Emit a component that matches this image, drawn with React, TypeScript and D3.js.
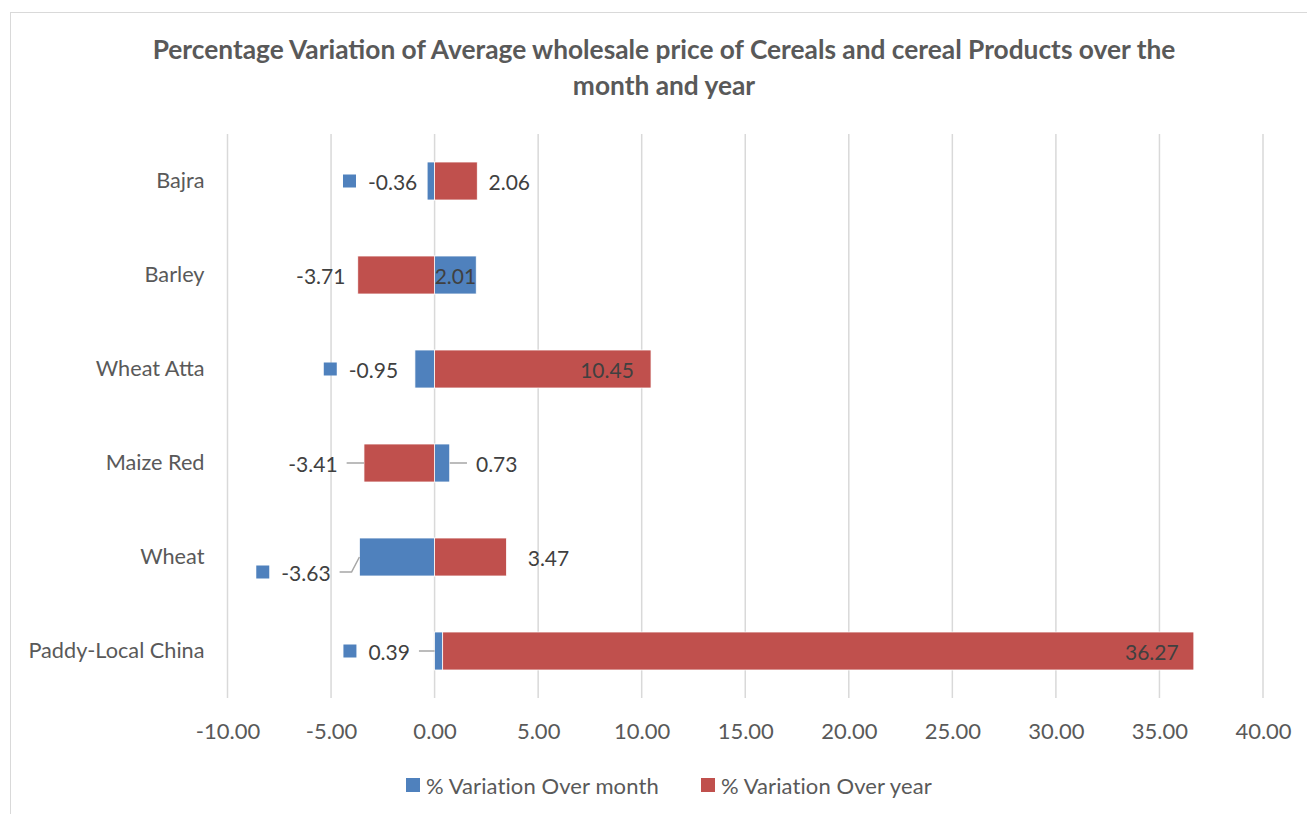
import { useEffect, useRef } from "react";
import * as d3 from "d3";

const categories = ["Bajra", "Barley", "Wheat Atta", "Maize Red", "Wheat", "Paddy-Local China"];
const overMonth = [-0.36, 2.01, -0.95, 0.73, -3.63, 0.39];
const overYear = [2.06, -3.71, 10.45, -3.41, 3.47, 36.27];
const seriesNames = ["% Variation Over month", "% Variation Over year"];
const xTickValues = [-10, -5, 0, 5, 10, 15, 20, 25, 30, 35, 40];

// where Excel's hand-moved data labels sit, relative to the segment's outer end
// mode: "end" = offset from outer end, "mid" = centred in segment
const monthLabelLayout = [
  { mode: "end", dx: -47, dy: 0, key: true, leader: false },
  { mode: "mid", dx: 0, dy: 0, key: false, leader: false },
  { mode: "end", dx: -54, dy: 0, key: true, leader: false },
  { mode: "end", dx: 47, dy: 0, key: false, leader: true },
  { mode: "end", dx: -66, dy: 15, key: true, leader: true },
  { mode: "end", dx: -66, dy: 0, key: true, leader: true },
];
const yearLabelLayout = [
  { mode: "end", dx: 32, dy: 0, key: false, leader: false },
  { mode: "end", dx: -37, dy: 0, key: false, leader: false },
  { mode: "end", dx: -44, dy: 0, key: false, leader: false },
  { mode: "end", dx: -51, dy: 0, key: false, leader: true },
  { mode: "end", dx: 42, dy: 0, key: false, leader: false },
  { mode: "end", dx: -42, dy: 0, key: false, leader: false },
];

const colors = ["#4F81BD", "#C0504D"];
const FONT = "Lato, 'Open Sans', sans-serif";
// excel shows a plain hyphen, not d3's unicode minus
const fmt = (v: number) => d3.format(".2f")(v).replace("\u2212", "-");

export default function App() {
  const ref = useRef<SVGSVGElement>(null);

  useEffect(() => {
    const svg = d3.select(ref.current);
    svg.selectAll("*").remove();

    const width = 1307;
    const height = 814;
    const plot = { left: 227.5, right: 1263, top: 134, bottom: 698 };

    svg.attr("width", width).attr("height", height).style("font-family", FONT);

    svg
      .append("rect")
      .attr("x", 10.5)
      .attr("y", 12.5)
      .attr("width", 1400)
      .attr("height", 900)
      .attr("fill", "#fff")
      .attr("stroke", "#D9D9D9")
      .attr("stroke-width", 1);

    // title
    const title = svg
      .append("text")
      .attr("text-anchor", "middle")
      .attr("fill", "#595959")
      .style("font-size", "26.3px")
      .style("font-weight", "bold");
    title
      .append("tspan")
      .attr("x", 664)
      .attr("y", 59)
      .text("Percentage Variation of Average wholesale price of Cereals and cereal Products over the");
    title.append("tspan").attr("x", 664).attr("y", 95).text("month and year");

    const x = d3.scaleLinear().domain([-10, 40]).range([plot.left, plot.right]);
    const y = d3
      .scaleBand()
      .domain(categories)
      .range([plot.top, plot.bottom])
      .paddingInner(0.596)
      .paddingOuter(0.298);

    // gridlines
    svg
      .append("g")
      .selectAll("line")
      .data(xTickValues)
      .join("line")
      .attr("x1", (d) => x(d))
      .attr("x2", (d) => x(d))
      .attr("y1", plot.top)
      .attr("y2", plot.bottom)
      .attr("stroke", "#D9D9D9")
      .attr("stroke-width", 1.5);

    // x axis labels
    const xAxis = svg
      .append("g")
      .attr("transform", `translate(0,${plot.bottom})`)
      .call(
        d3
          .axisBottom(x)
          .tickValues(xTickValues)
          .tickSize(0)
          .tickPadding(25)
          .tickFormat((d) => fmt(d as number))
      );
    xAxis.select(".domain").remove();
    xAxis
      .selectAll("text")
      .attr("fill", "#595959")
      .style("font-size", "22px")
      .style("font-family", FONT);

    // y axis labels
    const yAxis = svg
      .append("g")
      .attr("transform", `translate(${plot.left},0)`)
      .call(d3.axisLeft(y).tickSize(0).tickPadding(23));
    yAxis.select(".domain").remove();
    yAxis
      .selectAll("text")
      .attr("fill", "#595959")
      .style("font-size", "21.7px")
      .style("font-family", FONT);

    // stacked bars
    const rows = categories.map((c, i) => ({ cat: c, month: overMonth[i], year: overYear[i] }));
    const stack = d3
      .stack<any>()
      .keys(["month", "year"])
      .offset(d3.stackOffsetDiverging);
    const layers = stack(rows);

    layers.forEach((layer, si) => {
      svg
        .append("g")
        .selectAll("rect")
        .data(layer)
        .join("rect")
        .attr("x", (d) => x(Math.min(d[0], d[1])))
        .attr("width", (d) => Math.abs(x(d[1]) - x(d[0])))
        .attr("y", (d) => y(d.data.cat)!)
        .attr("height", y.bandwidth())
        .attr("fill", colors[si])
        .attr("stroke", "#fff")
        .attr("stroke-width", 0.75);
    });

    // data labels
    const labelG = svg.append("g");
    const layouts = [monthLabelLayout, yearLabelLayout];
    layers.forEach((layer, si) => {
      layer.forEach((d, i) => {
        const lay = layouts[si][i];
        const v = si === 0 ? overMonth[i] : overYear[i];
        const x0 = x(d[0]);
        const x1 = x(d[1]);
        const outer = v >= 0 ? Math.max(x0, x1) : Math.min(x0, x1);
        const barY = y(d.data.cat)! + y.bandwidth() / 2;
        const cx = lay.mode === "mid" ? (x0 + x1) / 2 + lay.dx : outer + lay.dx;
        const cy = barY + lay.dy;

        const g = labelG.append("g");
        const txt = g
          .append("text")
          .attr("fill", "#404040")
          .attr("dominant-baseline", "central")
          .style("font-size", "21px")
          .text(fmt(v));
        const tw = (txt.node() as SVGTextElement).getComputedTextLength();
        const keySize = 13;
        const gap = 12;
        const total = lay.key ? keySize + gap + tw : tw;
        const left = cx - total / 2;
        if (lay.key) {
          g.append("rect")
            .attr("x", left)
            .attr("y", cy - keySize / 2)
            .attr("width", keySize)
            .attr("height", keySize)
            .attr("fill", colors[si]);
        }
        const textLeft = lay.key ? left + keySize + gap : left;
        txt.attr("x", textLeft).attr("y", cy);

        if (lay.leader) {
          const barL = Math.min(x0, x1);
          const barR = Math.max(x0, x1);
          const pts: [number, number][] = [];
          if (cx < barL) {
            const s = textLeft + tw + 9;
            pts.push([s, cy]);
            if (lay.dy !== 0) pts.push([s + 12, cy]);
            pts.push([barL, barY]);
          } else {
            const s = textLeft - 9;
            pts.push([s, cy]);
            if (lay.dy !== 0) pts.push([s - 12, cy]);
            pts.push([barR, barY]);
          }
          g.insert("path", ":first-child")
            .attr("d", d3.line()(pts))
            .attr("fill", "none")
            .attr("stroke", "#A6A6A6")
            .attr("stroke-width", 1.5);
        }
      });
    });

    // legend
    const legend = svg.append("g").attr("transform", "translate(0,785)");
    const legendX = [406, 701];
    seriesNames.forEach((name, i) => {
      legend
        .append("rect")
        .attr("x", legendX[i])
        .attr("y", -7)
        .attr("width", 14)
        .attr("height", 14)
        .attr("fill", colors[i]);
      legend
        .append("text")
        .attr("x", legendX[i] + 20)
        .attr("y", 0)
        .attr("dominant-baseline", "central")
        .attr("fill", "#595959")
        .style("font-size", "22px")
        .style("letter-spacing", "0.1px")
        .text(name);
    });
  }, []);

  return <svg ref={ref} style={{ position: "absolute", left: 0, top: 0 }} />;
}
